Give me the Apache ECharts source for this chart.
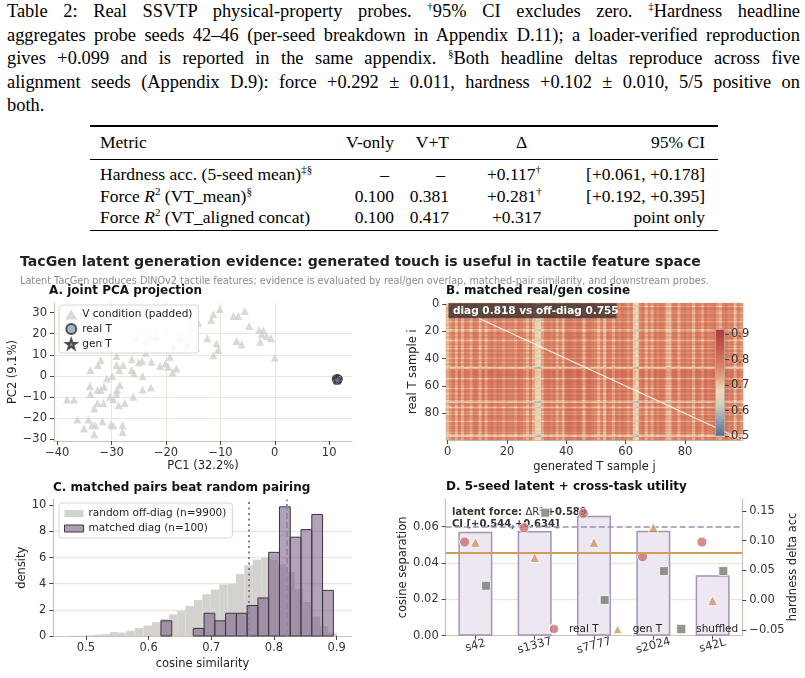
<!DOCTYPE html>
<html>
<head>
<meta charset="utf-8">
<script src="https://cdn.jsdelivr.net/npm/echarts@6/dist/echarts.min.js"></script>
<style>
body{margin:0;background:#fff;width:805px;height:678px;overflow:hidden;position:relative;font-family:"Liberation Serif","Times New Roman",serif;color:#000}
#cap{position:absolute;left:7px;top:0;width:793px;font-size:18.4px;line-height:23.5px}
#cap div{text-align:justify;text-align-last:justify;white-space:nowrap}
#cap div.last{text-align-last:left}
.ib{display:inline-block}
.sp{font-size:11px;vertical-align:7px;line-height:0}
.rule{position:absolute;left:90px;width:628px;background:#000}
.tr{position:absolute;left:0;width:805px;height:22px;line-height:22px;font-size:17.5px}
.tr > span{position:absolute;top:0;white-space:nowrap}
#chart{position:absolute;left:0;top:245px;width:805px;height:433px}
</style>
</head>
<body>
<div id="cap">
<div>Table 2: Real SSVTP physical-property probes. <span class="ib"><span class="sp">†</span>95%</span> CI excludes zero. <span class="ib"><span class="sp">‡</span>Hardness</span> headline</div>
<div>aggregates probe seeds 42–46 (per-seed breakdown in Appendix D.11); a loader-verified reproduction</div>
<div>gives +0.099 and is reported in the same appendix. <span class="ib"><span class="sp">§</span>Both</span> headline deltas reproduce across five</div>
<div>alignment seeds (Appendix D.9): force +0.292 ± 0.011, hardness +0.102 ± 0.010, 5/5 positive on</div>
<div class="last">both.</div>
</div>

<div class="rule" style="top:125px;height:1.6px"></div>
<div class="tr" style="top:131px">
  <span style="left:100px">Metric</span>
  <span style="right:411px">V-only</span>
  <span style="right:356px">V+T</span>
  <span style="left:516px">Δ</span>
  <span style="right:100px">95% CI</span>
</div>
<div class="rule" style="top:158.5px;height:0.9px"></div>
<div class="tr" style="top:163px">
  <span style="left:100px">Hardness acc. (5-seed mean)<sup class="sp">‡§</sup></span>
  <span style="right:416px">–</span>
  <span style="right:360px">–</span>
  <span style="left:487px">+0.117<sup class="sp">†</sup></span>
  <span style="right:100px">[+0.061, +0.178]</span>
</div>
<div class="tr" style="top:185px">
  <span style="left:100px">Force <i>R</i><sup class="sp">2</sup> (VT_mean)<sup class="sp">§</sup></span>
  <span style="right:411px">0.100</span>
  <span style="right:356px">0.381</span>
  <span style="left:487px">+0.281<sup class="sp">†</sup></span>
  <span style="right:100px">[+0.192, +0.395]</span>
</div>
<div class="tr" style="top:206px">
  <span style="left:100px">Force <i>R</i><sup class="sp">2</sup> (VT_aligned concat)</span>
  <span style="right:411px">0.100</span>
  <span style="right:356px">0.417</span>
  <span style="left:492px">+0.317</span>
  <span style="right:100px">point only</span>
</div>
<div class="rule" style="top:229.5px;height:1.6px"></div>

<div id="chart"></div>
<script>
// ---- A. joint PCA projection
var vCondPts = [
  [-38.2,-11.3],[-36.9,-11.3],[-36.3,-20.8],[-35.1,-25.1],[-34.3,-20.8],[-33.6,-23.5],[-33.2,-27.8],[-33.0,-23.5],[-31.7,-21.6],[-33.2,-15.6],
  [-32.6,-12.9],[-31.5,-12.9],[-32.6,-6.8],[-32.0,-6.8],[-31.4,-5.2],[-34.0,-4.9],[-33.9,-8.7],[-33.9,2.7],[-32.5,5.1],[-32.0,7.5],
  [-30.9,-1.3],[-30.3,-10.0],[-29.7,-11.1],[-30.1,-23.2],[-29.7,-23.6],[-28.0,-23.5],[-28.0,-26.7],[-29.0,-6.8],[-28.5,-4.4],[-27.6,-12.9],
  [-28.7,-14.0],[-29.1,-8.7],[-29.9,-0.1],[-29.1,5.1],[-29.1,9.4],[-28.6,2.7],[-27.9,5.1],[-26.3,7.9],[-26.3,2.7],[-26.0,-10.0],
  [-25.9,1.1],[-25.0,6.3],[-24.4,7.0],[-24.3,-0.1],[-24.3,-6.5],[-22.8,-5.6],[-23.7,11.0],[-22.7,6.7],[-21.1,4.6],[-20.1,5.9],
  [-19.6,4.3],[-19.3,9.0],[-18.8,1.6],[-18.1,3.5],[-18.6,13.8],[-17.3,18.1],[-21.7,18.6],[-22.9,18.3],[-23.9,16.5],[-25.5,17.8],
  [-16.1,14.6],[-15.4,23.3],[-14.1,25.2],[-14.5,13.5],[-11.7,26.5],[-11.3,29.2],[-10.1,31.7],[-12.4,17.8],[-11.3,9.8],[-10.7,15.4],
  [-10.4,12.2],[-7.6,28.4],[-6.7,28.4],[-5.5,30.8],[-4.7,23.7],[-7.0,16.5],[-6.1,14.9],[-2.7,16.2],[-2.9,21.7],[-2.1,21.7],
  [-2.4,19.7],[-1.5,18.9],[-0.7,17.8],[0.0,8.7]
];
var realTPts = [[11.3,-1.5],[11.6,-2.0],[11.5,-1.2],[11.4,-2.2],[11.7,-1.6]];
var genTPts = [[11.4,-1.7],[11.6,-1.5],[11.5,-2.0]];
var pcaXTicks = [-40,-30,-20,-10,0,10];
var pcaYTicks = [-30,-20,-10,0,10,20,30];

// ---- B. matched real/gen cosine: row / column brightness read from the streaks
var heatBase = 0.772;
var rowLevel = [0.00,0.01,-0.04,0.01,0.02,-0.01,0.01,-0.03,0.02,0.00,
  0.01,-0.02,0.02,-0.05,0.01,0.00,0.02,-0.02,0.01,-0.06,
  -0.04,0.01,0.02,-0.01,0.01,0.02,-0.02,-0.06,0.01,0.00,
  0.02,-0.02,0.01,-0.04,0.02,0.01,-0.02,0.02,0.00,0.01,
  -0.04,0.02,0.01,-0.02,0.02,0.01,-0.03,-0.10,0.01,0.02,
  0.03,0.02,0.03,0.02,0.01,-0.05,0.02,0.03,0.01,0.02,
  0.00,0.02,-0.04,0.01,0.02,0.01,-0.02,0.02,0.01,0.00,
  0.02,-0.03,-0.09,0.01,0.02,-0.02,-0.07,0.01,0.02,-0.03,
  0.01,-0.04,0.02,0.01,0.00,0.02,-0.05,0.01,0.02,-0.01,
  0.02,0.01,0.00,0.02,-0.02,0.01,-0.06,-0.09,0.01,0.00];
var colLevel = [-0.06,-0.02,0.01,-0.05,0.02,-0.05,0.01,0.00,-0.04,0.02,
  0.01,-0.05,0.02,-0.04,0.01,0.02,-0.01,0.02,0.01,-0.02,
  0.02,0.00,0.01,-0.02,0.02,0.01,-0.01,-0.05,0.01,-0.05,
  -0.09,-0.10,-0.04,0.01,0.02,0.00,0.02,-0.04,0.01,-0.05,
  0.02,0.03,0.02,0.00,0.03,0.02,-0.05,0.02,0.03,0.01,
  0.00,-0.05,0.01,-0.06,0.02,0.01,-0.04,0.02,0.00,0.02,
  0.01,-0.02,0.01,-0.08,-0.10,0.00,0.02,-0.05,0.01,-0.04,
  0.02,0.00,0.02,0.01,-0.05,-0.06,0.01,0.02,-0.04,0.01,
  0.02,0.00,0.01,-0.05,0.02,0.01,-0.03,0.02,0.00,0.01,
  0.02,-0.02,-0.05,0.01,0.02,0.00,0.01,-0.06,0.01,-0.02];
var heatColors = ['#4f6e8e','#8e9eac','#cfcbbf','#f0dcb8','#e29a7a','#d4735a','#c2544a','#ad3a44'];
var heatMin = 0.5, heatMax = 0.92;
var cbarTicks = [0.5,0.6,0.7,0.8,0.9];

// ---- C. histograms (density)
var randBinStart = 0.4714, randBinWidth = 0.0134;
var randDensity = [0.02,0.03,0.05,0.10,0.14,0.30,0.26,0.40,0.62,0.80,
  1.05,1.30,1.65,1.95,2.30,2.75,3.20,3.55,3.95,4.00,
  4.75,5.40,5.85,6.00,5.85,5.50,4.90,3.60,2.60,1.50,0.75,0.25];
var matchBinStart = 0.6197, matchBinWidth = 0.01719;
var matchDensity = [1.16,0,0,0.58,1.74,1.16,1.74,1.74,2.33,2.91,6.40,9.88,7.56,8.14,9.30,3.49];
var offDiagMean = 0.755, diagMean = 0.818;
var simTicks = [0.5,0.6,0.7,0.8,0.9];
var densTicks = [0,2,4,6,8,10];

// ---- D. 5-seed latent + cross-task utility
var seeds = ['s42','s1337','s7777','s2024','s42L'];
var cosSep = [0.0572,0.0576,0.0660,0.0578,0.0332];
var realTAcc = [0.0975,0.1216,0.1457,0.0728,0.0975];
var genTAcc = [0.0970,0.0717,0.0970,0.1216,-0.0010];
var shuffledAcc = [0.0240,0.1470,0.0000,0.0487,0.0487];
var sepRefLine = 0.0569;     // dashed, left axis
var genMeanLine = 0.0773;    // solid orange, right axis
var sepTicks = [0,0.02,0.04,0.06];
var accTicks = [-0.05,0,0.05,0.10,0.15];

var FF = 'DejaVu Sans';
var tickFont = {fontFamily: FF, fontSize: 11.5, color: '#333'};
var nameFont = {fontFamily: FF, fontSize: 11.5, color: '#222'};
var spineCol = '#cdc2b2';
var gridCol = '#ece7dd';
function num(v, d) { return (v < -1e-9 ? '\u2212' : '') + Math.abs(v).toFixed(d); }
function ticksOn(vals) { return {show: true, length: 4, customValues: vals, lineStyle: {color: '#444'}}; }
function labelsOn(vals, d, margin) {
  return Object.assign({customValues: vals, margin: margin, formatter: function (v) { return num(v, d); }}, tickFont);
}
var starPath = 'path://M0,-10L2.35,-3.24L9.51,-3.09L3.8,1.24L5.88,8.09L0,4L-5.88,8.09L-3.8,1.24L-9.51,-3.09L-2.35,-3.24Z';
var triPath = 'path://M0,-1L1,1L-1,1Z';
var sqPath = 'path://M0,0L1,0L1,1L0,1Z';

var heatData = [];
for (var i = 0; i < rowLevel.length; i++) {
  for (var j = 0; j < colLevel.length; j++) {
    heatData.push([j, i, +(heatBase + rowLevel[i] + colLevel[j]).toFixed(3)]);
  }
}
var heatCats = rowLevel.map(function (_, k) { return String(k); });
var randBins = randDensity.map(function (d, k) { return [randBinStart + k * randBinWidth, randBinStart + (k + 1) * randBinWidth, d]; });
var matchBins = matchDensity.map(function (d, k) { return [matchBinStart + k * matchBinWidth, matchBinStart + (k + 1) * matchBinWidth, d]; });

function histItem(fill, stroke) {
  return function (params, api) {
    var p0 = api.coord([api.value(0), api.value(2)]);
    var p1 = api.coord([api.value(1), 0]);
    if (api.value(2) <= 0) return null;
    return {type: 'rect', shape: {x: p0[0], y: p0[1], width: p1[0] - p0[0], height: p1[1] - p0[1]},
      style: {fill: fill, stroke: stroke, lineWidth: stroke ? 1 : 0}};
  };
}
var cbarGrad = new echarts.graphic.LinearGradient(0, 1, 0, 0,
  heatColors.map(function (c, k) { return {offset: k / (heatColors.length - 1), color: c}; }));

var titleStyle = {fontFamily: FF, fontWeight: 'bold', fontSize: 12, color: '#111'};
var legendText = {fontFamily: FF, fontSize: 10.5, color: '#222'};
var chart = echarts.init(document.getElementById('chart'), null, {renderer: 'canvas'});
var option = {
  animation: false,
  textStyle: {fontFamily: FF},
  title: [
    {text: 'TacGen latent generation evidence: generated touch is useful in tactile feature space', left: 20, top: 10.5, padding: 0,
      textStyle: {fontFamily: FF, fontWeight: 'bold', fontSize: 14.1, color: '#222'}},
    {text: 'Latent TacGen produces DINOv2 tactile features; evidence is evaluated by real/gen overlap, matched-pair similarity, and downstream probes.',
      left: 20, top: 31.5, padding: 0, textStyle: {fontFamily: FF, fontWeight: 'normal', fontSize: 9.7, color: '#8a8a8a'}},
    {text: 'A. joint PCA projection', left: 49, top: 40, padding: 0, textStyle: titleStyle},
    {text: 'B. matched real/gen cosine', left: 446, top: 40, padding: 0, textStyle: titleStyle},
    {text: 'C. matched pairs beat random pairing', left: 53, top: 237, padding: 0, textStyle: titleStyle},
    {text: 'D. 5-seed latent + cross-task utility', left: 446, top: 236, padding: 0, textStyle: titleStyle}
  ],
  grid: [
    {left: 54, top: 58, width: 298, height: 138},
    {left: 446.2, top: 58.3, width: 296.6, height: 136.7, show: true, borderColor: spineCol, borderWidth: 1},
    {left: 446.2, top: 58.3, width: 296.6, height: 136.7},
    {left: 715, top: 84, width: 10, height: 107},
    {left: 53.3, top: 254.4, width: 298.4, height: 136.6},
    {left: 445.7, top: 254, width: 296.6, height: 136.7}
  ],
  xAxis: [
    {type: 'value', gridIndex: 0, min: -40.6, max: 14.2,
      axisLine: {onZero: false, lineStyle: {color: spineCol, width: 1.2}},
      axisTick: ticksOn(pcaXTicks), axisLabel: labelsOn(pcaXTicks, 0, 6),
      splitLine: {show: true, showMinLine: false, showMaxLine: false, lineStyle: {color: gridCol}},
      name: 'PC1 (32.2%)', nameLocation: 'middle', nameGap: 19, nameTextStyle: nameFont},
    {type: 'category', gridIndex: 1, data: heatCats, boundaryGap: true,
      axisLine: {lineStyle: {color: spineCol}},
      axisTick: {show: true, interval: 19, alignWithLabel: true, length: 4, lineStyle: {color: '#444'}},
      axisLabel: Object.assign({interval: 19, margin: 6}, tickFont),
      name: 'generated T sample j', nameLocation: 'middle', nameGap: 21, nameTextStyle: nameFont},
    {type: 'value', gridIndex: 2, min: -0.5, max: 99.5, show: false},
    {type: 'category', gridIndex: 3, data: ['cbar'], show: false},
    {type: 'value', gridIndex: 4, min: 0.448, max: 0.924,
      axisLine: {onZero: false, lineStyle: {color: spineCol, width: 1.2}},
      axisTick: ticksOn(simTicks), axisLabel: labelsOn(simTicks, 1, 6), splitLine: {show: false},
      name: 'cosine similarity', nameLocation: 'middle', nameGap: 22, nameTextStyle: nameFont},
    {type: 'category', gridIndex: 5, data: seeds,
      axisLine: {onZero: false, lineStyle: {color: spineCol, width: 1.2}},
      axisTick: {show: true, alignWithLabel: true, length: 4, lineStyle: {color: '#444'}},
      axisLabel: Object.assign({rotate: 15, align: 'center', margin: 10}, tickFont)},
    {type: 'value', gridIndex: 5, min: -0.5, max: 4.5, show: false}
  ],
  yAxis: [
    {type: 'value', gridIndex: 0, min: -31, max: 34.6,
      axisLine: {show: true, onZero: false, lineStyle: {color: spineCol, width: 1.2}},
      axisTick: ticksOn(pcaYTicks), axisLabel: labelsOn(pcaYTicks, 0, 7),
      splitLine: {show: true, showMinLine: false, showMaxLine: false, lineStyle: {color: gridCol}},
      name: 'PC2 (9.1%)', nameLocation: 'middle', nameGap: 35, nameTextStyle: nameFont},
    {type: 'category', gridIndex: 1, data: heatCats, inverse: true,
      axisLine: {lineStyle: {color: spineCol}},
      axisTick: {show: true, interval: 19, alignWithLabel: true, length: 4, lineStyle: {color: '#444'}},
      axisLabel: Object.assign({interval: 19, margin: 7}, tickFont),
      name: 'real T sample i', nameLocation: 'middle', nameGap: 27, nameTextStyle: nameFont},
    {type: 'value', gridIndex: 2, min: -0.5, max: 99.5, inverse: true, show: false},
    {type: 'value', gridIndex: 3, min: heatMin, max: heatMax, position: 'right', z: 20,
      axisLine: {show: false}, axisTick: ticksOn(cbarTicks), axisLabel: labelsOn(cbarTicks, 1, 6), splitLine: {show: false}},
    {type: 'value', gridIndex: 4, min: 0, max: 10.45,
      axisLine: {show: true, onZero: false, lineStyle: {color: spineCol, width: 1.2}},
      axisTick: ticksOn(densTicks), axisLabel: labelsOn(densTicks, 0, 7),
      splitLine: {show: true, showMinLine: false, showMaxLine: false, lineStyle: {color: gridCol, width: 1.3}},
      name: 'density', nameLocation: 'middle', nameGap: 25, nameTextStyle: nameFont},
    {type: 'value', gridIndex: 5, min: 0, max: 0.0752, splitNumber: 4,
      axisLine: {show: true, onZero: false, lineStyle: {color: spineCol, width: 1.2}},
      axisTick: ticksOn(sepTicks), axisLabel: labelsOn(sepTicks, 2, 7),
      splitLine: {show: true, showMinLine: false, showMaxLine: false, lineStyle: {color: gridCol, width: 1.3}},
      name: 'cosine separation', nameLocation: 'middle', nameGap: 36, nameTextStyle: nameFont},
    {type: 'value', gridIndex: 5, min: -0.06, max: 0.17, position: 'right',
      axisLine: {show: true, onZero: false, lineStyle: {color: spineCol, width: 1.2}},
      axisTick: ticksOn(accTicks), axisLabel: labelsOn(accTicks, 2, 7), splitLine: {show: false}}
  ],
  visualMap: {type: 'continuous', show: false, seriesIndex: 3, dimension: 2, min: heatMin, max: heatMax,
    inRange: {color: heatColors}},
  legend: [
    {orient: 'vertical', left: 59, top: 60, itemWidth: 12, itemHeight: 10, itemGap: 3, padding: [4, 6, 3, 6],
      backgroundColor: 'rgba(255,255,255,0.85)', borderColor: '#d6d6d6', borderWidth: 1, borderRadius: 3,
      textStyle: legendText,
      data: [{name: 'V condition (padded)', icon: 'triangle'}, {name: 'real T', icon: 'circle'}, {name: 'gen T', icon: starPath}]},
    {orient: 'vertical', left: 59, top: 258, itemWidth: 19, itemHeight: 7, itemGap: 4, padding: [5, 6, 4, 5],
      backgroundColor: 'rgba(255,255,255,0.85)', borderColor: '#d6d6d6', borderWidth: 1, borderRadius: 3,
      textStyle: legendText,
      data: [{name: 'random off-diag (n=9900)', icon: 'rect', itemStyle: {color: '#d3d2ce', borderWidth: 0}},
        {name: 'matched diag (n=100)', icon: 'rect', itemStyle: {color: '#ad9db6', borderColor: '#3c3640', borderWidth: 1}}]},
    {orient: 'horizontal', left: 543, top: 373, itemWidth: 20, itemHeight: 10, itemGap: 13, symbolKeepAspect: true,
      textStyle: legendText,
      formatter: function (n) { return n.slice(2); },
      data: [{name: 'D:real T', icon: 'circle'}, {name: 'D:gen T', icon: triPath}, {name: 'D:shuffled', icon: sqPath}]}
  ],
  graphic: [
    {type: 'rect', z: 100, shape: {x: 448.5, y: 58.3, width: 168, height: 15},
      style: {fill: 'rgba(78,62,56,0.9)'}},
    {type: 'text', z: 101, x: 453, y: 66, style: {text: 'diag 0.818 vs off-diag 0.755', fill: '#fff',
      font: 'bold 10.5px "DejaVu Sans"', verticalAlign: 'middle'}},
    {type: 'rect', z: 1, shape: {x: 447, y: 258, width: 143, height: 29}, style: {fill: 'rgba(255,255,255,0.85)'}},
    {type: 'text', z: 1, x: 452, y: 267.5, style: {text: '{b|latent force: }{n|ΔR²}{b| +0.589}', verticalAlign: 'middle',
      rich: {b: {font: 'bold 10px "DejaVu Sans"', fill: '#333'}, n: {font: '10px "DejaVu Sans"', fill: '#333'}}}},
    {type: 'text', z: 1, x: 452, y: 279.5, style: {text: 'CI [+0.544,+0.634]', fill: '#333',
      font: 'bold 10px "DejaVu Sans"', verticalAlign: 'middle'}},
    {type: 'text', z: 10, x: 793, y: 322, rotation: Math.PI / 2, style: {text: 'hardness delta acc', fill: '#222',
      font: '11.5px "DejaVu Sans"', align: 'center', verticalAlign: 'middle'}}
  ],
  series: [
    {name: 'V condition (padded)', type: 'scatter', xAxisIndex: 0, yAxisIndex: 0, symbol: 'triangle', symbolSize: 8,
      itemStyle: {color: '#d2d0cb'}, data: vCondPts},
    {name: 'real T', type: 'scatter', xAxisIndex: 0, yAxisIndex: 0, symbol: 'circle', symbolSize: 8,
      itemStyle: {color: '#8fa5b8', borderColor: '#2b2b33', borderWidth: 1}, data: realTPts},
    {name: 'gen T', type: 'scatter', xAxisIndex: 0, yAxisIndex: 0, symbol: starPath, symbolSize: 9,
      itemStyle: {color: '#7a7286', borderColor: '#2b2b33', borderWidth: 0.8}, data: genTPts},
    {name: 'cosine', type: 'heatmap', xAxisIndex: 1, yAxisIndex: 1, data: heatData, progressive: 0},
    {name: 'diag', type: 'line', xAxisIndex: 2, yAxisIndex: 2, symbol: 'none', silent: true, z: 5,
      lineStyle: {color: 'rgba(255,250,242,0.92)', width: 1.1}, data: [[-0.5, -0.5], [99.5, 99.5]]},
    {name: 'cbar', type: 'bar', xAxisIndex: 3, yAxisIndex: 3, barWidth: '100%', silent: true, z: 6,
      itemStyle: {color: cbarGrad, borderColor: '#b8b0a8', borderWidth: 0.8}, data: [heatMax]},
    {name: 'random off-diag (n=9900)', type: 'custom', xAxisIndex: 4, yAxisIndex: 4, itemStyle: {color: '#d3d2ce'},
      renderItem: histItem('#d3d2ce', null), data: randBins, encode: {x: [0, 1], y: 2}},
    {name: 'matched diag (n=100)', type: 'custom', xAxisIndex: 4, yAxisIndex: 4, itemStyle: {color: '#ad9db6'},
      renderItem: histItem('rgba(126,100,140,0.6)', '#3c3640'), data: matchBins, encode: {x: [0, 1], y: 2},
      markLine: {silent: true, symbol: 'none', label: {show: false}, data: [
        {xAxis: offDiagMean, lineStyle: {color: '#858585', width: 2, type: [2, 3.5]}},
        {xAxis: diagMean, lineStyle: {color: '#9a86a8', width: 2, type: [6, 3]}}]}},
    {name: 'cos sep', type: 'bar', xAxisIndex: 5, yAxisIndex: 5, barWidth: 34,
      itemStyle: {color: '#ede7f1', borderColor: '#a592b5', borderWidth: 1.5}, data: cosSep,
      markLine: {silent: true, symbol: 'none', label: {show: false}, z: 4, data: [
        {yAxis: sepRefLine, lineStyle: {color: '#a08cb8', width: 1.5, type: [6, 3]}}]}},
    {name: 'D:real T', type: 'scatter', xAxisIndex: 6, yAxisIndex: 6, symbol: 'circle', symbolSize: 10, z: 4,
      itemStyle: {color: '#c4706c', borderColor: '#fff', borderWidth: 1},
      data: realTAcc.map(function (v, k) { return [k - 0.18, v]; }),
      markLine: {silent: true, symbol: 'none', label: {show: false}, data: [
        {yAxis: genMeanLine, lineStyle: {color: '#d29b5c', width: 2, type: 'solid'}}]}},
    {name: 'D:gen T', type: 'scatter', xAxisIndex: 6, yAxisIndex: 6, symbol: 'triangle', symbolSize: 10, z: 4,
      itemStyle: {color: '#cc9660', borderColor: '#fff', borderWidth: 1},
      data: genTAcc.map(function (v, k) { return [k, v]; })},
    {name: 'D:shuffled', type: 'scatter', xAxisIndex: 6, yAxisIndex: 6, symbol: 'rect', symbolSize: 9, z: 4,
      itemStyle: {color: '#7b7a72', borderColor: '#fff', borderWidth: 1},
      data: shuffledAcc.map(function (v, k) { return [k + 0.18, v]; })}
  ]
};
chart.setOption(option);
</script>
</body>
</html>
